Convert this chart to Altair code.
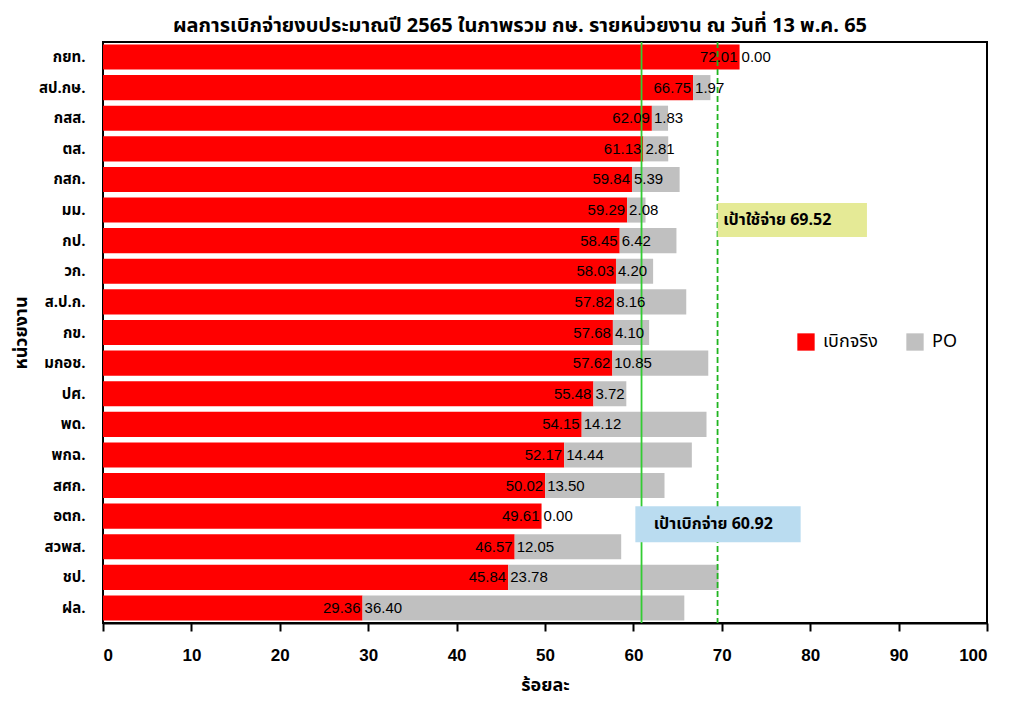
import altair as alt
import pandas as pd

units = ["กยท.", "สป.กษ.", "กสส.", "ตส.", "กสก.", "มม.", "กป.", "วก.", "ส.ป.ก.", "กข.",
         "มกอช.", "ปศ.", "พด.", "พกฉ.", "สศก.", "อตก.", "สวพส.", "ชป.", "ฝล."]
actual = [72.01, 66.75, 62.09, 61.13, 59.84, 59.29, 58.45, 58.03, 57.82, 57.68,
          57.62, 55.48, 54.15, 52.17, 50.02, 49.61, 46.57, 45.84, 29.36]
po = [0.00, 1.97, 1.83, 2.81, 5.39, 2.08, 6.42, 4.20, 8.16, 4.10,
      10.85, 3.72, 14.12, 14.44, 13.50, 0.00, 12.05, 23.78, 36.40]
series = ["เบิกจริง", "PO"]
target_spend = 69.52
target_disburse = 60.92

df = pd.DataFrame({"unit": units, "actual": actual, "po": po})
df["total"] = df["actual"] + df["po"]
df["actual_lbl"] = df["actual"].map(lambda v: f"{v:.2f}")
df["po_lbl"] = df["po"].map(lambda v: f"{v:.2f}")

long = pd.concat([
    pd.DataFrame({"unit": units, "s": series[0], "x0": 0.0, "x1": df["actual"]}),
    pd.DataFrame({"unit": units, "s": series[1], "x0": df["actual"], "x1": df["total"]}),
])

THAI = "Noto Sans Thai, Tahoma, Noto Sans, sans-serif"
NUM = "Liberation Sans, Arial, sans-serif"

yenc = alt.Y("unit:N", sort=units,
             scale=alt.Scale(paddingInner=0.18, paddingOuter=0.08),
             axis=alt.Axis(title="หน่วยงาน", domain=False, ticks=False,
                           labelFont=THAI, labelFontSize=15, labelFontWeight="bold",
                           labelColor="black", labelPadding=18,
                           titleFont=THAI, titleFontSize=18, titleFontWeight="bold",
                           titleColor="black", titlePadding=8))

xscale = alt.Scale(domain=[0, 100], nice=False)

bars = alt.Chart(long).mark_bar().encode(
    x=alt.X("x0:Q", scale=xscale,
            axis=alt.Axis(title="ร้อยละ", values=list(range(0, 101, 10)), grid=False,
                          domainColor="black", domainWidth=2, tickColor="black",
                          tickWidth=2, tickSize=8, labelFont=NUM, labelFontSize=17,
                          labelFontWeight="bold", labelColor="black", labelPadding=16,
                          titleFont=THAI, titleFontSize=18, titleFontWeight="bold",
                          titleColor="black", titlePadding=13)),
    x2="x1:Q",
    y=yenc,
    color=alt.Color("s:N", scale=alt.Scale(domain=series, range=["#FF0000", "#C0C0C0"]),
                    legend=alt.Legend(title=None, orient="none", legendX=694, legendY=291,
                                      direction="horizontal", symbolType="square",
                                      symbolSize=300, symbolStrokeWidth=0,
                                      labelFont=THAI, labelFontSize=18, labelColor="black",
                                      columnPadding=28, labelOffset=8)),
)

lbl_actual = alt.Chart(df).mark_text(align="right", dx=-2, font=NUM, fontSize=15,
                                     color="black").encode(
    x="actual:Q", y=alt.Y("unit:N", sort=units), text="actual_lbl:N")
lbl_po = alt.Chart(df).mark_text(align="left", dx=2, font=NUM, fontSize=15,
                                 color="black").encode(
    x="actual:Q", y=alt.Y("unit:N", sort=units), text="po_lbl:N")

targets = pd.DataFrame({"v": [target_disburse, target_spend], "kind": ["solid", "dash"]})
rule_solid = alt.Chart(targets[targets.kind == "solid"]).mark_rule(
    color="#33CC33", strokeWidth=1.8).encode(x="v:Q")
rule_dash = alt.Chart(targets[targets.kind == "dash"]).mark_rule(
    color="#1FB51F", strokeWidth=1.8, strokeDash=[6, 3]).encode(x="v:Q")

ann = pd.DataFrame({
    "unit": ["มม.", "อตก."],
    "x0": [target_spend, target_disburse - 0.7],
    "x1": [target_spend + 16.9, target_disburse + 18.0],
    "tx": [target_spend + 0.3, target_disburse + 0.7],
    "label": [f"เป้าใช้จ่าย {target_spend:.2f}", f"เป้าเบิกจ่าย {target_disburse:.2f}"],
    "fill": ["#E5EA96", "#BADCF0"],
})
ann_y = alt.Y("unit:N", sort=units)
box1 = alt.Chart(ann.iloc[[0]]).mark_bar(height=34, yOffset=10).encode(
    x="x0:Q", x2="x1:Q", y=ann_y, color=alt.Color("fill:N", scale=None))
box2 = alt.Chart(ann.iloc[[1]]).mark_bar(height=36, yOffset=8).encode(
    x="x0:Q", x2="x1:Q", y=ann_y, color=alt.Color("fill:N", scale=None))
txt1 = alt.Chart(ann.iloc[[0]]).mark_text(align="left", dx=3, dy=10, font=THAI, fontSize=16,
                                          fontWeight="bold", color="black").encode(
    x="tx:Q", y=ann_y, text="label:N")
txt2 = alt.Chart(ann.iloc[[1]]).mark_text(align="left", dx=6, dy=8, font=THAI, fontSize=16,
                                          fontWeight="bold", color="black").encode(
    x="tx:Q", y=ann_y, text="label:N")

chart = alt.layer(bars, rule_solid, rule_dash, box1, box2, txt1, txt2,
                  lbl_actual, lbl_po).properties(
    width=884, height=581,
    autosize="none",
    padding={"left": 95, "top": 34, "right": 8, "bottom": 75},
    title=alt.TitleParams("ผลการเบิกจ่ายงบประมาณปี 2565 ในภาพรวม กษ. รายหน่วยงาน ณ วันที่ 13 พ.ค. 65",
                          font=THAI, fontSize=20, fontWeight="bold", color="black",
                          anchor="middle", dx=-25, offset=5),
).configure(background="white").configure_view(stroke="black", strokeWidth=2)

chart.save("out.html", embed_options={"renderer": "svg", "actions": False})
